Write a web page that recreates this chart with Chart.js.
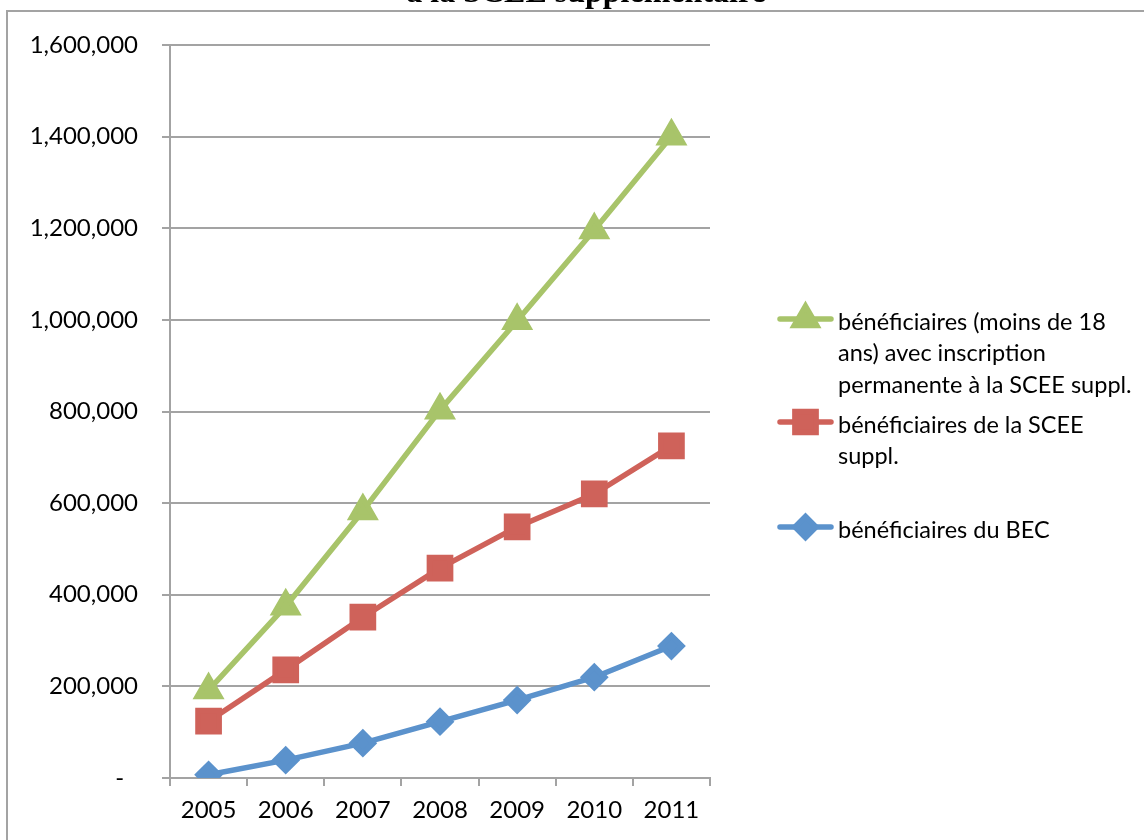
<!DOCTYPE html>
<html lang="fr">
<head>
<meta charset="utf-8">
<title>Bénéficiaires SCEE supplémentaire</title>
<script src="https://cdn.jsdelivr.net/npm/chart.js@4.4.0/dist/chart.umd.min.js"></script>
<style>
    html, body { margin: 0; padding: 0; background: #ffffff; }
    #chartContainer { display: block; }
</style>
</head>
<body>
<canvas id="chartContainer" width="1144" height="840"></canvas>
<script>
////////////////////
// DONNÉES        //
////////////////////
var annees = ['2005', '2006', '2007', '2008', '2009', '2010', '2011'];

// bénéficiaires du BEC
var beneficiairesBEC = [7000, 39000, 76000, 123000, 170000, 220000, 288000];
// bénéficiaires de la SCEE suppl.
var beneficiairesSCEE = [124000, 236000, 351000, 458000, 548000, 620000, 725000];
// bénéficiaires (moins de 18 ans) avec inscription permanente
var beneficiairesPermanents = [192000, 375000, 583000, 803000, 998000, 1196000, 1401000];

var graduationsY = [0, 200000, 400000, 600000, 800000, 1000000, 1200000, 1400000, 1600000];

var titreVisible = 'à la SCEE supplémentaire';

var legendeBEC = ['bénéficiaires du BEC'];
var legendeSCEE = ['bénéficiaires de la SCEE', 'suppl.'];
var legendePermanents = ['bénéficiaires (moins de 18', 'ans) avec inscription', 'permanente à la SCEE suppl.'];

var couleurBleu = '#5b92cc';
var couleurRouge = '#cf625a';
var couleurVert = '#a8c46a';
var couleurGrille = '#a3a3a3';
var policeTexte = 'Lato, "Open Sans", "Noto Sans", sans-serif';


////////////////////////////////////////////
// CADRE, TITRE ET LÉGENDE (dessin maison) //
////////////////////////////////////////////
function dessinerMarqueur(ctx, style, rayon, couleur, x, y) {
    ctx.save();
    ctx.fillStyle = couleur;
    ctx.strokeStyle = couleur;
    if (Chart.helpers && Chart.helpers.drawPoint) {
        Chart.helpers.drawPoint(ctx, { pointStyle: style, radius: rayon, rotation: 0, borderWidth: 1 }, x, y);
    }
    ctx.restore();
}

var pluginDecor = {
    id: 'decor',
    beforeDraw: function(chart) {
        var ctx = chart.ctx;
        ctx.save();
        ctx.fillStyle = '#ffffff';
        ctx.fillRect(0, 0, chart.width, chart.height);
        // cadre du graphique (déborde à droite et en bas)
        ctx.strokeStyle = couleurGrille;
        ctx.lineWidth = 2;
        ctx.strokeRect(7, 11, chart.width + 20, chart.height + 20);
        // titre
        ctx.fillStyle = '#000000';
        ctx.font = 'bold 32px "Liberation Serif", "Times New Roman", serif';
        ctx.textAlign = 'center';
        ctx.textBaseline = 'alphabetic';
        ctx.fillText(titreVisible, 586, 2);
        ctx.restore();
    },
    afterDraw: function(chart) {
        var ctx = chart.ctx;
        var items = [
            { texte: legendePermanents, ds: 2, y: 322 },
            { texte: legendeSCEE, ds: 1, y: 425 },
            { texte: legendeBEC, ds: 0, y: 530 }
        ];
        ctx.save();
        items.forEach(function(item) {
            var ds = chart.data.datasets[item.ds];
            var yMarq = item.y - 3;
            ctx.strokeStyle = ds.borderColor;
            ctx.lineWidth = 5.5;
            ctx.lineCap = 'round';
            ctx.beginPath();
            ctx.moveTo(780, yMarq);
            ctx.lineTo(831, yMarq);
            ctx.stroke();
            dessinerMarqueur(ctx, ds.pointStyle, ds.pointRadius, ds.backgroundColor, 805.5, yMarq);

            ctx.fillStyle = '#000000';
            ctx.font = '23.5px ' + policeTexte;
            ctx.textAlign = 'left';
            ctx.textBaseline = 'middle';
            item.texte.forEach(function(ligne, i) {
                ctx.fillText(ligne, 838, item.y + i * 31.5);
            });
        });
        ctx.restore();
    }
};


/////////////////////////
// GRAPHIQUE EN LIGNES //
/////////////////////////
function drawLineChart() {
    var ctx = document.getElementById('chartContainer').getContext('2d');
    if (ctx.chart) ctx.chart.destroy();

    ctx.chart = new Chart(ctx, {
        type: 'line',
        data: {
            labels: annees,
            datasets: [{
                label: legendeBEC.join(' '),
                data: beneficiairesBEC,
                borderColor: couleurBleu,
                backgroundColor: couleurBleu,
                pointStyle: 'rectRot',
                pointRadius: 10.5,
                borderWidth: 5.5
            }, {
                label: legendeSCEE.join(' '),
                data: beneficiairesSCEE,
                borderColor: couleurRouge,
                backgroundColor: couleurRouge,
                pointStyle: 'rect',
                pointRadius: 15,
                borderWidth: 5.5
            }, {
                label: legendePermanents.join(' '),
                data: beneficiairesPermanents,
                borderColor: couleurVert,
                backgroundColor: couleurVert,
                pointStyle: 'triangle',
                pointRadius: 13,
                borderWidth: 5.5
            }]
        },
        options: {
            responsive: false,
            animation: false,
            devicePixelRatio: 1,
            layout: {
                padding: { left: 0, top: 45, right: 434, bottom: 0 }
            },
            elements: {
                line: { tension: 0, borderCapStyle: 'round', borderJoinStyle: 'round' },
                point: { borderWidth: 1, hoverRadius: 13 }
            },
            scales: {
                x: {
                    offset: true,
                    afterFit: function(scale) { scale.height = 62; },
                    grid: {
                        offset: true,
                        drawOnChartArea: false,
                        drawTicks: true,
                        tickLength: 8,
                        color: couleurGrille,
                        lineWidth: 2
                    },
                    border: { display: true, color: couleurGrille, width: 2 },
                    ticks: {
                        padding: 10,
                        color: '#000000',
                        font: { family: policeTexte, size: 24 }
                    }
                },
                y: {
                    min: 0,
                    max: 1600000,
                    afterFit: function(scale) { scale.width = 170; },
                    afterBuildTicks: function(scale) {
                        scale.ticks = graduationsY.map(function(v) { return { value: v }; });
                    },
                    grid: {
                        drawTicks: true,
                        tickLength: 8,
                        color: couleurGrille,
                        lineWidth: 2
                    },
                    border: { display: true, color: couleurGrille, width: 2 },
                    ticks: {
                        padding: 24,
                        color: '#000000',
                        font: { family: policeTexte, size: 24 },
                        callback: function(value) {
                            if (value === 0) return '-\u2007';
                            return value.toLocaleString('en-US');
                        }
                    }
                }
            },
            plugins: {
                legend: { display: false },
                title: { display: false },
                tooltip: { enabled: false }
            }
        },
        plugins: [pluginDecor]
    });
}

drawLineChart();
</script>
</body>
</html>
